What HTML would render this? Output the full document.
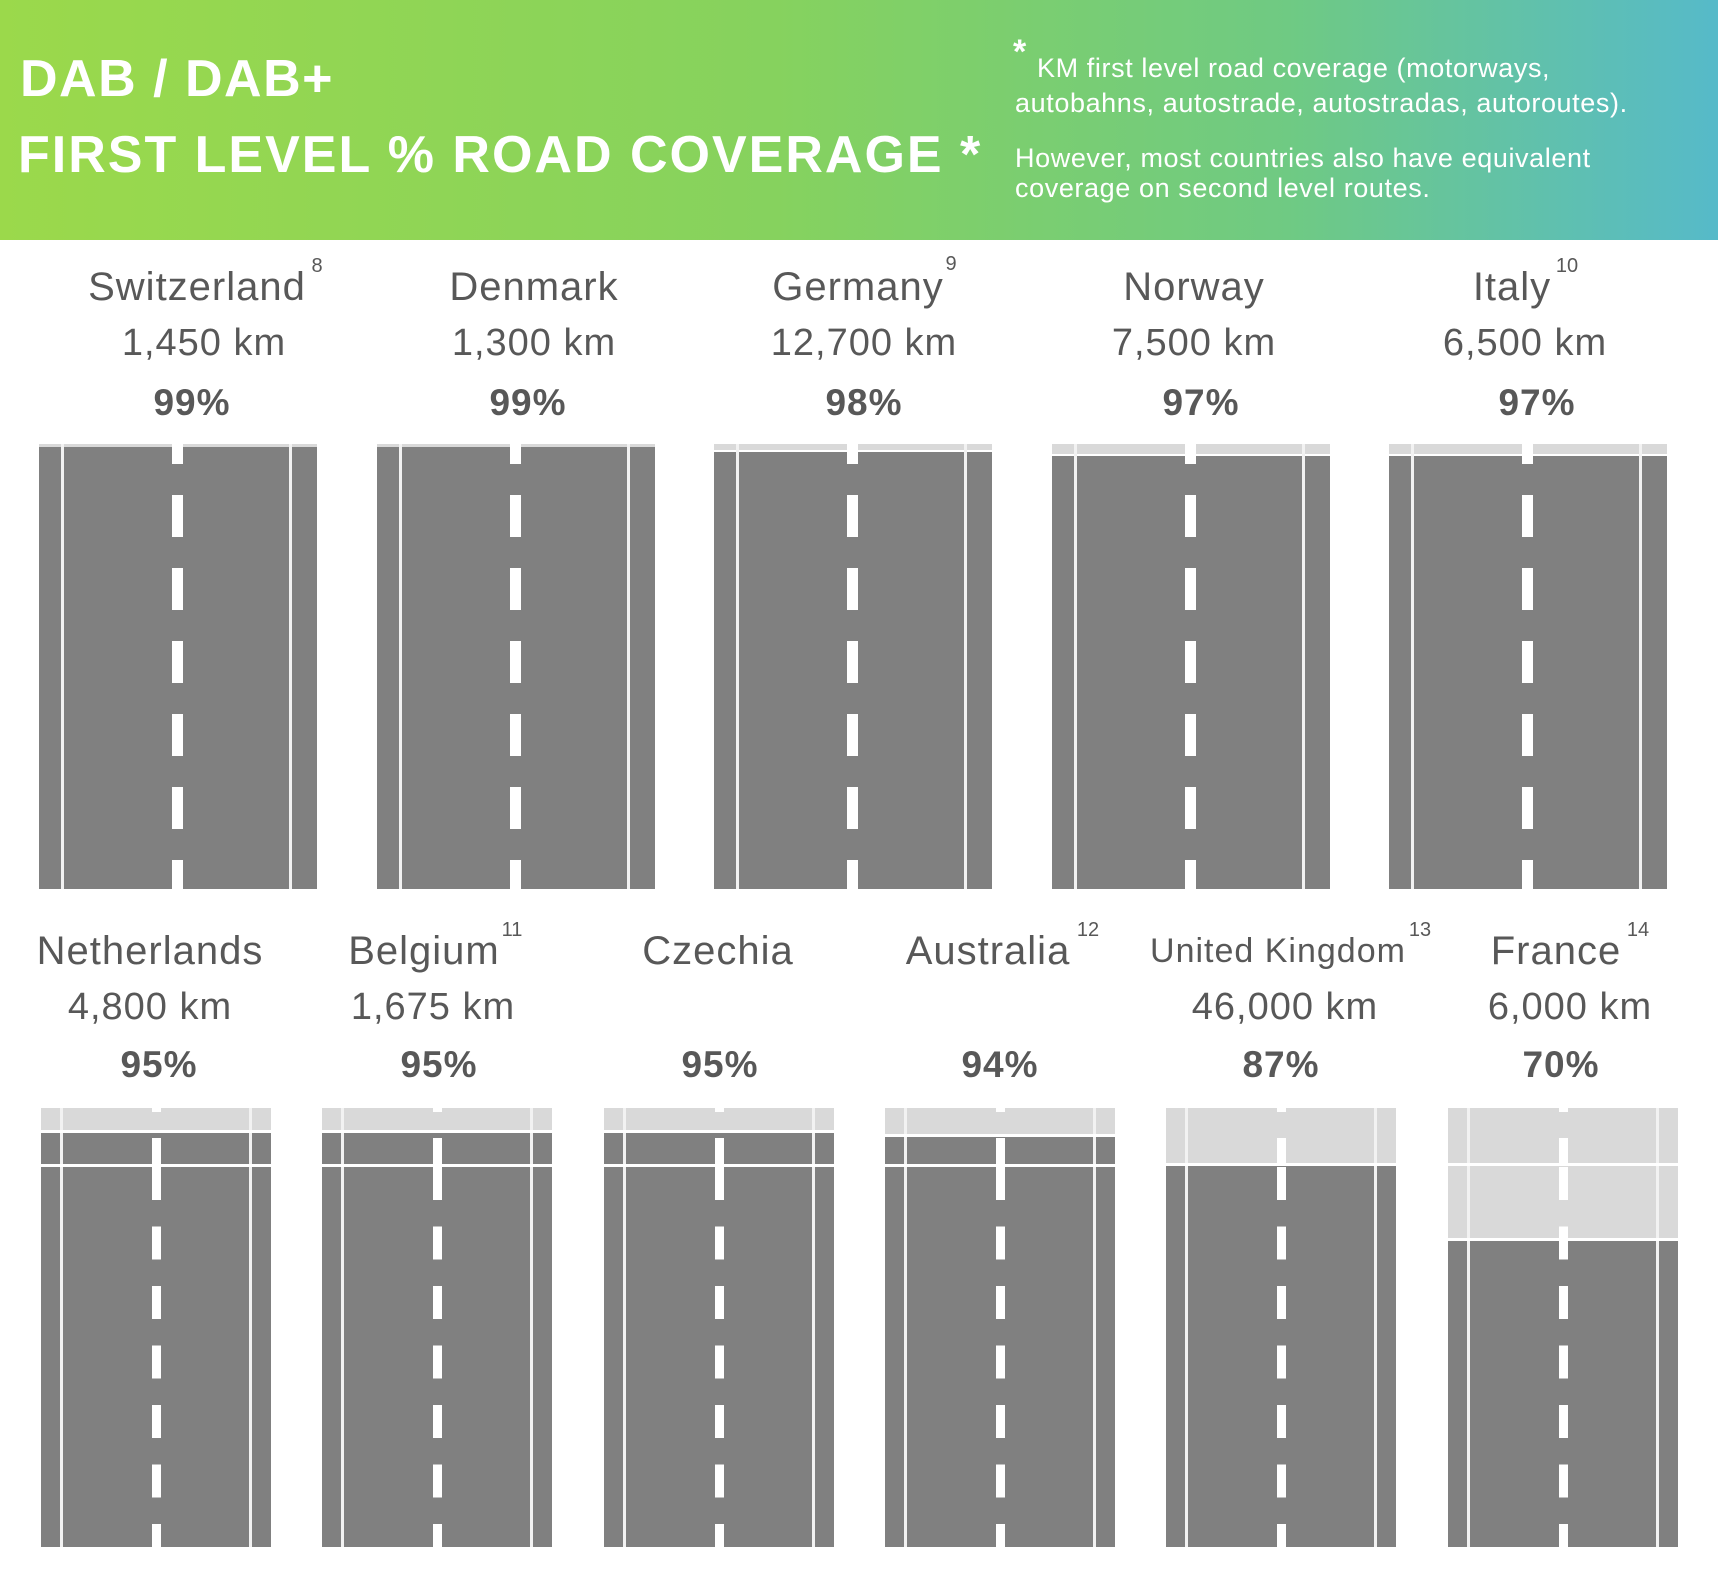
<!DOCTYPE html>
<html><head><meta charset="utf-8"><style>
body{margin:0;width:1718px;height:1584px;background:#fff;position:relative;overflow:hidden;font-family:"Liberation Sans",sans-serif}
.hdr{position:absolute;left:0;top:0;width:1718px;height:240px;background:linear-gradient(90deg,#9bd94b 0%,#86d25e 45%,#6fca83 75%,#56bac9 100%)}
.road{position:absolute;background:#808080;overflow:hidden}
.lt{position:absolute;left:0;top:0;width:100%;background:#d9d9d9}
.ln{position:absolute;top:0;bottom:0;width:3px;background:#f2f2f2}
.dash{position:absolute;top:0;bottom:0}
.r1 .dash{left:133px;width:11px;background:repeating-linear-gradient(#fff 0 42px,transparent 42px 73px);background-position:0 -22px}
.r2 .dash{left:111px;width:9px;top:59px;background:repeating-linear-gradient(#fff 0 33px,transparent 33px 59.5px)}
.r2 .d0{position:absolute;left:111px;width:9px;top:0;height:4px;background:#fff}
.r2 .d1{position:absolute;left:111px;width:9px;top:30px;height:26px;background:#fff}
.hl{position:absolute;left:0;width:100%;height:3px;background:#fff}
svg{position:absolute;left:0;top:0}
</style></head><body>
<div class="hdr"></div>

<!-- Row 1 -->
<div class="road r1" style="left:39px;top:444px;width:278px;height:445px">
 <div class="lt" style="height:3px"></div>
 <div class="ln" style="left:22px"></div><div class="ln" style="left:250px"></div><div class="dash"></div>
</div>
<div class="road r1" style="left:377px;top:444px;width:278px;height:445px">
 <div class="lt" style="height:3px"></div>
 <div class="ln" style="left:22px"></div><div class="ln" style="left:250px"></div><div class="dash"></div>
</div>
<div class="road r1" style="left:714px;top:444px;width:278px;height:445px">
 <div class="lt" style="height:6px"></div><div class="hl" style="top:6px;height:2px"></div>
 <div class="ln" style="left:22px"></div><div class="ln" style="left:250px"></div><div class="dash"></div>
</div>
<div class="road r1" style="left:1052px;top:444px;width:278px;height:445px">
 <div class="lt" style="height:10px"></div><div class="hl" style="top:10px;height:2px"></div>
 <div class="ln" style="left:22px"></div><div class="ln" style="left:250px"></div><div class="dash"></div>
</div>
<div class="road r1" style="left:1389px;top:444px;width:278px;height:445px">
 <div class="lt" style="height:10px"></div><div class="hl" style="top:10px;height:2px"></div>
 <div class="ln" style="left:22px"></div><div class="ln" style="left:250px"></div><div class="dash"></div>
</div>

<!-- Row 2 -->
<div class="road r2" style="left:41px;top:1108px;width:230px;height:439px">
 <div class="lt" style="height:22px"></div>
 <div class="ln" style="left:19px"></div><div class="ln" style="left:208px"></div>
 <div class="dash"></div><div class="d0"></div><div class="d1"></div>
 <div class="hl" style="top:22px"></div><div class="hl" style="top:56px"></div>
</div>
<div class="road r2" style="left:322px;top:1108px;width:230px;height:439px">
 <div class="lt" style="height:22px"></div>
 <div class="ln" style="left:19px"></div><div class="ln" style="left:208px"></div>
 <div class="dash"></div><div class="d0"></div><div class="d1"></div>
 <div class="hl" style="top:22px"></div><div class="hl" style="top:56px"></div>
</div>
<div class="road r2" style="left:604px;top:1108px;width:230px;height:439px">
 <div class="lt" style="height:22px"></div>
 <div class="ln" style="left:19px"></div><div class="ln" style="left:208px"></div>
 <div class="dash"></div><div class="d0"></div><div class="d1"></div>
 <div class="hl" style="top:22px"></div><div class="hl" style="top:56px"></div>
</div>
<div class="road r2" style="left:885px;top:1108px;width:230px;height:439px">
 <div class="lt" style="height:26px"></div>
 <div class="ln" style="left:19px"></div><div class="ln" style="left:208px"></div>
 <div class="dash"></div><div class="d0"></div><div class="d1"></div>
 <div class="hl" style="top:26px"></div><div class="hl" style="top:56px"></div>
</div>
<div class="road r2" style="left:1166px;top:1108px;width:230px;height:439px">
 <div class="lt" style="height:55px"></div>
 <div class="ln" style="left:19px"></div><div class="ln" style="left:208px"></div>
 <div class="dash"></div><div class="d0"></div><div class="d1"></div>
 <div class="hl" style="top:55px"></div>
</div>
<div class="road r2" style="left:1448px;top:1108px;width:230px;height:439px">
 <div class="lt" style="height:130px"></div>
 <div class="ln" style="left:19px"></div><div class="ln" style="left:208px"></div>
 <div class="dash"></div><div class="d0"></div><div class="d1"></div>
 <div class="hl" style="top:130px"></div><div class="hl" style="top:55px"></div>
</div>

<svg width="1718" height="1584" font-family="Liberation Sans, sans-serif">
 <g fill="#fff">
  <text x="20" y="96" font-size="52" font-weight="bold" letter-spacing="1.5">DAB / DAB+</text>
  <text x="18" y="172" font-size="52" font-weight="bold" letter-spacing="2">FIRST LEVEL % ROAD COVERAGE *</text>
  <text x="1013" y="63" font-size="34" font-weight="bold">*</text>
  <text x="1037" y="77" font-size="27" letter-spacing="0.6">KM first level road coverage (motorways,</text>
  <text x="1015" y="112" font-size="27" letter-spacing="0.6">autobahns, autostrade, autostradas, autoroutes).</text>
  <text x="1015" y="167" font-size="27" letter-spacing="0.6">However, most countries also have equivalent</text>
  <text x="1015" y="197" font-size="27" letter-spacing="0.6">coverage on second level routes.</text>
 </g>
 <g fill="#585858" text-anchor="middle" font-size="40" letter-spacing="1">
  <text x="197" y="300">Switzerland</text><text x="534" y="300">Denmark</text><text x="858" y="300">Germany</text><text x="1194" y="300">Norway</text><text x="1512" y="300">Italy</text>
  <text x="204" y="355" font-size="38">1,450 km</text><text x="534" y="355" font-size="38">1,300 km</text><text x="864" y="355" font-size="38">12,700 km</text><text x="1194" y="355" font-size="38">7,500 km</text><text x="1525" y="355" font-size="38">6,500 km</text>
  <g font-weight="bold" font-size="37"><text x="192" y="415">99%</text><text x="528" y="415">99%</text><text x="864" y="415">98%</text><text x="1201" y="415">97%</text><text x="1537" y="415">97%</text></g>
  <text x="150" y="964">Netherlands</text><text x="424" y="964">Belgium</text><text x="718" y="964">Czechia</text><text x="988" y="964">Australia</text><text x="1278" y="962" font-size="34">United Kingdom</text><text x="1556" y="964">France</text>
  <text x="150" y="1019" font-size="38">4,800 km</text><text x="433" y="1019" font-size="38">1,675 km</text><text x="1285" y="1019" font-size="38">46,000 km</text><text x="1570" y="1019" font-size="38">6,000 km</text>
  <g font-weight="bold" font-size="37"><text x="159" y="1077">95%</text><text x="439" y="1077">95%</text><text x="720" y="1077">95%</text><text x="1000" y="1077">94%</text><text x="1281" y="1077">87%</text><text x="1561" y="1077">70%</text></g>
  <g font-size="20" letter-spacing="0"><text x="317" y="272">8</text><text x="951" y="270">9</text><text x="1567" y="272">10</text><text x="512" y="936">11</text><text x="1088" y="936">12</text><text x="1420" y="936">13</text><text x="1638" y="936">14</text></g>
 </g>
</svg>
</body></html>
